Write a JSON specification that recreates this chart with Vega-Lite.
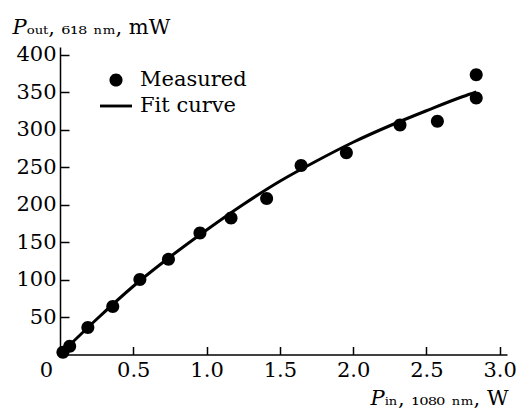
{
  "$schema": "https://vega.github.io/schema/vega-lite/v6.json",
  "autosize": {"type": "none"},
  "width": 447,
  "height": 307.5,
  "padding": {"left": 60, "top": 47, "right": 13, "bottom": 58.5},
  "background": "white",
  "config": {
    "view": {"stroke": null},
    "font": "DejaVu Serif",
    "axis": {
      "grid": false,
      "domainColor": "black",
      "domainWidth": 1.5,
      "tickColor": "black",
      "tickWidth": 1.5,
      "labelColor": "black",
      "labelFont": "DejaVu Serif",
      "labelFontSize": 21,
      "titleColor": "black",
      "titleFont": "DejaVu Serif",
      "titleFontSize": 21,
      "titleFontWeight": "normal"
    },
    "legend": {
      "labelFont": "DejaVu Serif",
      "labelFontSize": 21,
      "labelColor": "black"
    }
  },
  "datasets": {
    "measured": [
      {"pin": 0.02, "pout": 3, "kind": "Measured"},
      {"pin": 0.066, "pout": 11, "kind": "Measured"},
      {"pin": 0.19, "pout": 36, "kind": "Measured"},
      {"pin": 0.36, "pout": 64, "kind": "Measured"},
      {"pin": 0.545, "pout": 100, "kind": "Measured"},
      {"pin": 0.74, "pout": 127, "kind": "Measured"},
      {"pin": 0.955, "pout": 162, "kind": "Measured"},
      {"pin": 1.167, "pout": 182, "kind": "Measured"},
      {"pin": 1.41, "pout": 208, "kind": "Measured"},
      {"pin": 1.645, "pout": 252, "kind": "Measured"},
      {"pin": 1.954, "pout": 269, "kind": "Measured"},
      {"pin": 2.32, "pout": 306, "kind": "Measured"},
      {"pin": 2.575, "pout": 311, "kind": "Measured"},
      {"pin": 2.84, "pout": 342, "kind": "Measured"},
      {"pin": 2.84, "pout": 373, "kind": "Measured"}
    ],
    "fit": [
      {"pin": 0, "pout": 0},
      {"pin": 0.25, "pout": 47},
      {"pin": 0.5, "pout": 91},
      {"pin": 0.75, "pout": 130},
      {"pin": 1.0, "pout": 166},
      {"pin": 1.25, "pout": 200},
      {"pin": 1.5, "pout": 231},
      {"pin": 1.75, "pout": 258},
      {"pin": 2.0, "pout": 283},
      {"pin": 2.25, "pout": 305},
      {"pin": 2.5, "pout": 325},
      {"pin": 2.75, "pout": 344},
      {"pin": 2.84, "pout": 350}
    ]
  },
  "encoding": {
    "x": {
      "field": "pin",
      "type": "quantitative",
      "scale": {"domain": [0, 3.05], "nice": false, "zero": false},
      "axis": {
        "values": [0, 0.5, 1, 1.5, 2, 2.5, 3],
        "labelExpr": "datum.value == 0 ? '0' : format(datum.value, '.1f')",
        "labelFlush": false,
        "labelOffset": {"condition": {"test": "datum.value == 0", "value": -14}, "value": 0},
        "tickSize": -8,
        "labelPadding": 13,
        "title": "𝑃ᵢₙ, ₁₀₈₀ ₙₘ, W",
        "titleAlign": "left",
        "titleBaseline": "alphabetic",
        "titleX": 310,
        "titleY": 50
      }
    },
    "y": {
      "field": "pout",
      "type": "quantitative",
      "scale": {"domain": [0, 410], "nice": false},
      "axis": {
        "values": [50, 100, 150, 200, 250, 300, 350, 400],
        "tickSize": -9,
        "labelPadding": 13,
        "title": "𝑃ₒᵤₜ, ₆₁₈ ₙₘ, mW",
        "titleAngle": 0,
        "titleAlign": "left",
        "titleBaseline": "alphabetic",
        "titleX": -48,
        "titleY": -14
      }
    }
  },
  "layer": [
    {
      "data": {"name": "fit"},
      "mark": {"type": "line", "color": "black", "strokeWidth": 3, "interpolate": "monotone"}
    },
    {
      "data": {"name": "measured"},
      "mark": {"type": "point", "filled": true, "color": "black", "opacity": 1, "size": 1005},
      "encoding": {
        "shape": {
          "field": "kind",
          "type": "nominal",
          "scale": {
            "domain": ["Measured", "Fit curve"],
            "range": ["M-0.41,0A0.41,0.41,0,1,0,0.41,0A0.41,0.41,0,1,0,-0.41,0Z", "M-1,-0.09H1V0.09H-1Z"]
          },
          "legend": {
            "title": null,
            "orient": "none",
            "legendX": 40,
            "legendY": 17,
            "padding": 0,
            "symbolSize": 1024,
            "symbolStrokeWidth": 0,
            "symbolFillColor": "black",
            "symbolOpacity": 1,
            "labelOffset": 8,
            "rowPadding": -8,
            "encode": {
              "symbols": {
                "update": {
                  "fill": {"value": "black"},
                  "fillOpacity": {"value": 1},
                  "strokeWidth": {"value": 0},
                  "opacity": {"value": 1}
                }
              }
            }
          }
        }
      }
    }
  ]
}
